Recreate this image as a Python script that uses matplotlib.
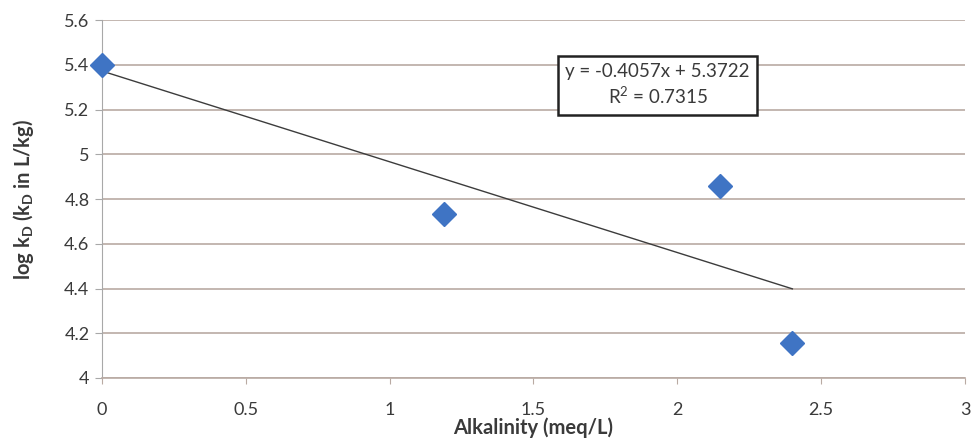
"""Alkalinity vs log kD scatter with linear trendline."""
import numpy as np
import matplotlib
matplotlib.use('Agg')
import matplotlib.pyplot as plt

alkalinity = [0.0, 1.19, 2.15, 2.40]
log_kd = [5.40, 4.735, 4.86, 4.155]
slope = -0.4057
intercept = 5.3722
r_squared = 0.7315

x_ticks = [0, 0.5, 1, 1.5, 2, 2.5, 3]
x_tick_labels = ['0', '0.5', '1', '1.5', '2', '2.5', '3']
y_ticks = [4, 4.2, 4.4, 4.6, 4.8, 5, 5.2, 5.4, 5.6]
y_tick_labels = ['4', '4.2', '4.4', '4.6', '4.8', '5', '5.2', '5.4', '5.6']

plt.rcParams['font.family'] = ['Lato', 'DejaVu Sans']
plt.rcParams['mathtext.fontset'] = 'custom'
plt.rcParams['mathtext.rm'] = 'Lato'
plt.rcParams['mathtext.bf'] = 'Lato:bold'

GRID = '#b9aaa3'
TEXT = '#3a3a3a'

fig = plt.figure(figsize=(9.74, 4.46), dpi=100)
ax = fig.add_axes([0.1047, 0.1525, 0.886, 0.8025])

ax.set_xlim(0, 3)
ax.set_ylim(4, 5.6)
ax.set_xticks(x_ticks)
ax.set_xticklabels(x_tick_labels)
ax.set_yticks(y_ticks)
ax.set_yticklabels(y_tick_labels)

ax.grid(axis='y', color=GRID, linewidth=1.2)
ax.set_axisbelow(True)
for side in ('top', 'right'):
    ax.spines[side].set_visible(False)
ax.spines['left'].set_color('#a8a8a8')
ax.spines['bottom'].set_color(GRID)
ax.spines['bottom'].set_linewidth(1.2)
ax.tick_params(axis='y', direction='out', length=5, color='#a8a8a8',
               labelsize=13, labelcolor=TEXT, pad=4)
ax.tick_params(axis='x', direction='out', length=4, color=GRID,
               labelsize=13, labelcolor=TEXT, pad=13)

# trendline over the data range
line_x = np.array([min(alkalinity), max(alkalinity)])
ax.plot(line_x, slope * line_x + intercept, color='#3c3c3c', linewidth=1.0, zorder=3)

ax.plot(alkalinity, log_kd, linestyle='none', marker='D', markersize=12,
        color='#3f74c4', markeredgecolor='#3f74c4', zorder=4, clip_on=False)

ax.text(0.644, 0.818,
        f'y = {slope:.4f}x + {intercept:.4f}\nR$^2$ = {r_squared:.4f}',
        transform=ax.transAxes, ha='center', va='center', fontsize=13.5,
        color=TEXT, linespacing=1.25,
        bbox=dict(boxstyle='square,pad=0.4', facecolor='white',
                  edgecolor='#222222', linewidth=1.8))

ax.set_xlabel('Alkalinity (meq/L)', fontsize=14.5, fontweight='bold', color=TEXT, labelpad=0)
ax.set_ylabel(r'log k$_\mathbf{D}$ (k$_\mathbf{D}$ in L/kg)', fontsize=14.5,
              fontweight='bold', color=TEXT, labelpad=20)

fig.savefig('out.png', dpi=100)
plt.close(fig)
